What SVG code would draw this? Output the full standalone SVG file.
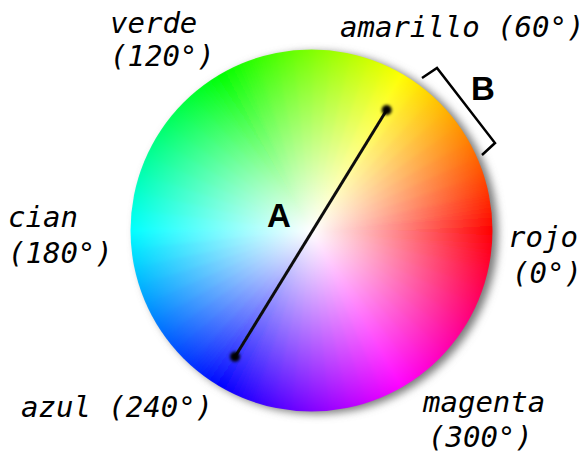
<svg xmlns="http://www.w3.org/2000/svg" width="588" height="454" viewBox="0 0 588 454">
<style>
.lbl{font-family:"DejaVu Sans Mono","Liberation Mono",monospace;font-style:italic;font-size:29px;fill:#000}
.big{font-family:"Liberation Sans",Arial,sans-serif;font-weight:bold;font-size:33px;fill:#000}
</style>
<defs>
<filter id="sh" x="-20%" y="-20%" width="140%" height="140%"><feGaussianBlur stdDeviation="4"/></filter>
<filter id="glow" x="-100%" y="-100%" width="300%" height="300%"><feGaussianBlur stdDeviation="1.6"/></filter>
<filter id="soft" x="-10%" y="-10%" width="120%" height="120%"><feGaussianBlur stdDeviation="0.5"/></filter>
<filter id="sm" x="-5%" y="-5%" width="110%" height="110%"><feGaussianBlur stdDeviation="1.5"/></filter>
<clipPath id="cc"><circle cx="311.5" cy="230.5" r="181"/></clipPath>
<radialGradient id="wh" cx="311.5" cy="230.5" r="181" gradientUnits="userSpaceOnUse">
<stop offset="0" stop-color="#fff" stop-opacity="1"/>
<stop offset="1" stop-color="#fff" stop-opacity="0"/>
</radialGradient>
<path id="wd" d="M311.5 230.5L494.2 241.1A183 183 0 0 0 494.2 219.9Z"/>
<linearGradient id="b" gradientUnits="userSpaceOnUse" x1="492.25" y1="239.97" x2="492.25" y2="221.03"/>
<linearGradient id="c0" href="#b"><stop stop-color="#ff0000"/><stop offset="1" stop-color="#ff1a00"/></linearGradient>
<linearGradient id="c1" href="#b"><stop stop-color="#ff1a00"/><stop offset="1" stop-color="#ff3300"/></linearGradient>
<linearGradient id="c2" href="#b"><stop stop-color="#ff3300"/><stop offset="1" stop-color="#ff4d00"/></linearGradient>
<linearGradient id="c3" href="#b"><stop stop-color="#ff4d00"/><stop offset="1" stop-color="#ff6600"/></linearGradient>
<linearGradient id="c4" href="#b"><stop stop-color="#ff6600"/><stop offset="1" stop-color="#ff8000"/></linearGradient>
<linearGradient id="c5" href="#b"><stop stop-color="#ff8000"/><stop offset="1" stop-color="#ff9900"/></linearGradient>
<linearGradient id="c6" href="#b"><stop stop-color="#ff9900"/><stop offset="1" stop-color="#ffb300"/></linearGradient>
<linearGradient id="c7" href="#b"><stop stop-color="#ffb300"/><stop offset="1" stop-color="#ffcc00"/></linearGradient>
<linearGradient id="c8" href="#b"><stop stop-color="#ffcc00"/><stop offset="1" stop-color="#ffe600"/></linearGradient>
<linearGradient id="c9" href="#b"><stop stop-color="#ffe600"/><stop offset="1" stop-color="#ffff00"/></linearGradient>
<linearGradient id="c10" href="#b"><stop stop-color="#ffff00"/><stop offset="1" stop-color="#e5ff00"/></linearGradient>
<linearGradient id="c11" href="#b"><stop stop-color="#e5ff00"/><stop offset="1" stop-color="#ccff00"/></linearGradient>
<linearGradient id="c12" href="#b"><stop stop-color="#ccff00"/><stop offset="1" stop-color="#b2ff00"/></linearGradient>
<linearGradient id="c13" href="#b"><stop stop-color="#b2ff00"/><stop offset="1" stop-color="#99ff00"/></linearGradient>
<linearGradient id="c14" href="#b"><stop stop-color="#99ff00"/><stop offset="1" stop-color="#7fff00"/></linearGradient>
<linearGradient id="c15" href="#b"><stop stop-color="#7fff00"/><stop offset="1" stop-color="#66ff00"/></linearGradient>
<linearGradient id="c16" href="#b"><stop stop-color="#66ff00"/><stop offset="1" stop-color="#4cff00"/></linearGradient>
<linearGradient id="c17" href="#b"><stop stop-color="#4cff00"/><stop offset="1" stop-color="#33ff00"/></linearGradient>
<linearGradient id="c18" href="#b"><stop stop-color="#33ff00"/><stop offset="1" stop-color="#19ff00"/></linearGradient>
<linearGradient id="c19" href="#b"><stop stop-color="#19ff00"/><stop offset="1" stop-color="#00ff00"/></linearGradient>
<linearGradient id="c20" href="#b"><stop stop-color="#00ff00"/><stop offset="1" stop-color="#00ff1a"/></linearGradient>
<linearGradient id="c21" href="#b"><stop stop-color="#00ff1a"/><stop offset="1" stop-color="#00ff33"/></linearGradient>
<linearGradient id="c22" href="#b"><stop stop-color="#00ff33"/><stop offset="1" stop-color="#00ff4d"/></linearGradient>
<linearGradient id="c23" href="#b"><stop stop-color="#00ff4d"/><stop offset="1" stop-color="#00ff66"/></linearGradient>
<linearGradient id="c24" href="#b"><stop stop-color="#00ff66"/><stop offset="1" stop-color="#00ff80"/></linearGradient>
<linearGradient id="c25" href="#b"><stop stop-color="#00ff80"/><stop offset="1" stop-color="#00ff99"/></linearGradient>
<linearGradient id="c26" href="#b"><stop stop-color="#00ff99"/><stop offset="1" stop-color="#00ffb3"/></linearGradient>
<linearGradient id="c27" href="#b"><stop stop-color="#00ffb3"/><stop offset="1" stop-color="#00ffcc"/></linearGradient>
<linearGradient id="c28" href="#b"><stop stop-color="#00ffcc"/><stop offset="1" stop-color="#00ffe6"/></linearGradient>
<linearGradient id="c29" href="#b"><stop stop-color="#00ffe6"/><stop offset="1" stop-color="#00ffff"/></linearGradient>
<linearGradient id="c30" href="#b"><stop stop-color="#00ffff"/><stop offset="1" stop-color="#00e5ff"/></linearGradient>
<linearGradient id="c31" href="#b"><stop stop-color="#00e5ff"/><stop offset="1" stop-color="#00ccff"/></linearGradient>
<linearGradient id="c32" href="#b"><stop stop-color="#00ccff"/><stop offset="1" stop-color="#00b2ff"/></linearGradient>
<linearGradient id="c33" href="#b"><stop stop-color="#00b2ff"/><stop offset="1" stop-color="#0099ff"/></linearGradient>
<linearGradient id="c34" href="#b"><stop stop-color="#0099ff"/><stop offset="1" stop-color="#007fff"/></linearGradient>
<linearGradient id="c35" href="#b"><stop stop-color="#007fff"/><stop offset="1" stop-color="#0066ff"/></linearGradient>
<linearGradient id="c36" href="#b"><stop stop-color="#0066ff"/><stop offset="1" stop-color="#004cff"/></linearGradient>
<linearGradient id="c37" href="#b"><stop stop-color="#004cff"/><stop offset="1" stop-color="#0033ff"/></linearGradient>
<linearGradient id="c38" href="#b"><stop stop-color="#0033ff"/><stop offset="1" stop-color="#0019ff"/></linearGradient>
<linearGradient id="c39" href="#b"><stop stop-color="#0019ff"/><stop offset="1" stop-color="#0000ff"/></linearGradient>
<linearGradient id="c40" href="#b"><stop stop-color="#0000ff"/><stop offset="1" stop-color="#1a00ff"/></linearGradient>
<linearGradient id="c41" href="#b"><stop stop-color="#1a00ff"/><stop offset="1" stop-color="#3300ff"/></linearGradient>
<linearGradient id="c42" href="#b"><stop stop-color="#3300ff"/><stop offset="1" stop-color="#4d00ff"/></linearGradient>
<linearGradient id="c43" href="#b"><stop stop-color="#4d00ff"/><stop offset="1" stop-color="#6600ff"/></linearGradient>
<linearGradient id="c44" href="#b"><stop stop-color="#6600ff"/><stop offset="1" stop-color="#8000ff"/></linearGradient>
<linearGradient id="c45" href="#b"><stop stop-color="#8000ff"/><stop offset="1" stop-color="#9900ff"/></linearGradient>
<linearGradient id="c46" href="#b"><stop stop-color="#9900ff"/><stop offset="1" stop-color="#b300ff"/></linearGradient>
<linearGradient id="c47" href="#b"><stop stop-color="#b300ff"/><stop offset="1" stop-color="#cc00ff"/></linearGradient>
<linearGradient id="c48" href="#b"><stop stop-color="#cc00ff"/><stop offset="1" stop-color="#e600ff"/></linearGradient>
<linearGradient id="c49" href="#b"><stop stop-color="#e600ff"/><stop offset="1" stop-color="#ff00ff"/></linearGradient>
<linearGradient id="c50" href="#b"><stop stop-color="#ff00ff"/><stop offset="1" stop-color="#ff00e5"/></linearGradient>
<linearGradient id="c51" href="#b"><stop stop-color="#ff00e5"/><stop offset="1" stop-color="#ff00cc"/></linearGradient>
<linearGradient id="c52" href="#b"><stop stop-color="#ff00cc"/><stop offset="1" stop-color="#ff00b2"/></linearGradient>
<linearGradient id="c53" href="#b"><stop stop-color="#ff00b2"/><stop offset="1" stop-color="#ff0099"/></linearGradient>
<linearGradient id="c54" href="#b"><stop stop-color="#ff0099"/><stop offset="1" stop-color="#ff007f"/></linearGradient>
<linearGradient id="c55" href="#b"><stop stop-color="#ff007f"/><stop offset="1" stop-color="#ff0066"/></linearGradient>
<linearGradient id="c56" href="#b"><stop stop-color="#ff0066"/><stop offset="1" stop-color="#ff004c"/></linearGradient>
<linearGradient id="c57" href="#b"><stop stop-color="#ff004c"/><stop offset="1" stop-color="#ff0033"/></linearGradient>
<linearGradient id="c58" href="#b"><stop stop-color="#ff0033"/><stop offset="1" stop-color="#ff0019"/></linearGradient>
<linearGradient id="c59" href="#b"><stop stop-color="#ff0019"/><stop offset="1" stop-color="#ff0000"/></linearGradient>
</defs>
<rect width="588" height="454" fill="#fff"/>
<g id="wheel">
<circle cx="317" cy="233" r="181" fill="#7a7a7a" filter="url(#sh)"/>
<g clip-path="url(#cc)">
<g filter="url(#sm)">
<use href="#wd" fill="url(#c0)" transform="rotate(-3 311.5 230.5)"/>
<use href="#wd" fill="url(#c1)" transform="rotate(-9 311.5 230.5)"/>
<use href="#wd" fill="url(#c2)" transform="rotate(-15 311.5 230.5)"/>
<use href="#wd" fill="url(#c3)" transform="rotate(-21 311.5 230.5)"/>
<use href="#wd" fill="url(#c4)" transform="rotate(-27 311.5 230.5)"/>
<use href="#wd" fill="url(#c5)" transform="rotate(-33 311.5 230.5)"/>
<use href="#wd" fill="url(#c6)" transform="rotate(-39 311.5 230.5)"/>
<use href="#wd" fill="url(#c7)" transform="rotate(-45 311.5 230.5)"/>
<use href="#wd" fill="url(#c8)" transform="rotate(-51 311.5 230.5)"/>
<use href="#wd" fill="url(#c9)" transform="rotate(-57 311.5 230.5)"/>
<use href="#wd" fill="url(#c10)" transform="rotate(-63 311.5 230.5)"/>
<use href="#wd" fill="url(#c11)" transform="rotate(-69 311.5 230.5)"/>
<use href="#wd" fill="url(#c12)" transform="rotate(-75 311.5 230.5)"/>
<use href="#wd" fill="url(#c13)" transform="rotate(-81 311.5 230.5)"/>
<use href="#wd" fill="url(#c14)" transform="rotate(-87 311.5 230.5)"/>
<use href="#wd" fill="url(#c15)" transform="rotate(-93 311.5 230.5)"/>
<use href="#wd" fill="url(#c16)" transform="rotate(-99 311.5 230.5)"/>
<use href="#wd" fill="url(#c17)" transform="rotate(-105 311.5 230.5)"/>
<use href="#wd" fill="url(#c18)" transform="rotate(-111 311.5 230.5)"/>
<use href="#wd" fill="url(#c19)" transform="rotate(-117 311.5 230.5)"/>
<use href="#wd" fill="url(#c20)" transform="rotate(-123 311.5 230.5)"/>
<use href="#wd" fill="url(#c21)" transform="rotate(-129 311.5 230.5)"/>
<use href="#wd" fill="url(#c22)" transform="rotate(-135 311.5 230.5)"/>
<use href="#wd" fill="url(#c23)" transform="rotate(-141 311.5 230.5)"/>
<use href="#wd" fill="url(#c24)" transform="rotate(-147 311.5 230.5)"/>
<use href="#wd" fill="url(#c25)" transform="rotate(-153 311.5 230.5)"/>
<use href="#wd" fill="url(#c26)" transform="rotate(-159 311.5 230.5)"/>
<use href="#wd" fill="url(#c27)" transform="rotate(-165 311.5 230.5)"/>
<use href="#wd" fill="url(#c28)" transform="rotate(-171 311.5 230.5)"/>
<use href="#wd" fill="url(#c29)" transform="rotate(-177 311.5 230.5)"/>
<use href="#wd" fill="url(#c30)" transform="rotate(-183 311.5 230.5)"/>
<use href="#wd" fill="url(#c31)" transform="rotate(-189 311.5 230.5)"/>
<use href="#wd" fill="url(#c32)" transform="rotate(-195 311.5 230.5)"/>
<use href="#wd" fill="url(#c33)" transform="rotate(-201 311.5 230.5)"/>
<use href="#wd" fill="url(#c34)" transform="rotate(-207 311.5 230.5)"/>
<use href="#wd" fill="url(#c35)" transform="rotate(-213 311.5 230.5)"/>
<use href="#wd" fill="url(#c36)" transform="rotate(-219 311.5 230.5)"/>
<use href="#wd" fill="url(#c37)" transform="rotate(-225 311.5 230.5)"/>
<use href="#wd" fill="url(#c38)" transform="rotate(-231 311.5 230.5)"/>
<use href="#wd" fill="url(#c39)" transform="rotate(-237 311.5 230.5)"/>
<use href="#wd" fill="url(#c40)" transform="rotate(-243 311.5 230.5)"/>
<use href="#wd" fill="url(#c41)" transform="rotate(-249 311.5 230.5)"/>
<use href="#wd" fill="url(#c42)" transform="rotate(-255 311.5 230.5)"/>
<use href="#wd" fill="url(#c43)" transform="rotate(-261 311.5 230.5)"/>
<use href="#wd" fill="url(#c44)" transform="rotate(-267 311.5 230.5)"/>
<use href="#wd" fill="url(#c45)" transform="rotate(-273 311.5 230.5)"/>
<use href="#wd" fill="url(#c46)" transform="rotate(-279 311.5 230.5)"/>
<use href="#wd" fill="url(#c47)" transform="rotate(-285 311.5 230.5)"/>
<use href="#wd" fill="url(#c48)" transform="rotate(-291 311.5 230.5)"/>
<use href="#wd" fill="url(#c49)" transform="rotate(-297 311.5 230.5)"/>
<use href="#wd" fill="url(#c50)" transform="rotate(-303 311.5 230.5)"/>
<use href="#wd" fill="url(#c51)" transform="rotate(-309 311.5 230.5)"/>
<use href="#wd" fill="url(#c52)" transform="rotate(-315 311.5 230.5)"/>
<use href="#wd" fill="url(#c53)" transform="rotate(-321 311.5 230.5)"/>
<use href="#wd" fill="url(#c54)" transform="rotate(-327 311.5 230.5)"/>
<use href="#wd" fill="url(#c55)" transform="rotate(-333 311.5 230.5)"/>
<use href="#wd" fill="url(#c56)" transform="rotate(-339 311.5 230.5)"/>
<use href="#wd" fill="url(#c57)" transform="rotate(-345 311.5 230.5)"/>
<use href="#wd" fill="url(#c58)" transform="rotate(-351 311.5 230.5)"/>
<use href="#wd" fill="url(#c59)" transform="rotate(-357 311.5 230.5)"/>
</g>
</g>
<circle cx="311.5" cy="230.5" r="181.5" fill="url(#wh)"/>
</g>
<g id="connectors">
<line x1="386.7" y1="110" x2="235" y2="356.7" stroke="#111" stroke-width="3" filter="url(#soft)"/>
<path d="M422 78L437 68L495 143L482 155" fill="none" stroke="#000" stroke-width="2.5" filter="url(#soft)"/>
</g>
<g id="dots">
<circle cx="386.7" cy="110" r="5" fill="#000" filter="url(#glow)"/>
<circle cx="235" cy="356.7" r="5" fill="#000" filter="url(#glow)"/>
</g>
<g id="labels">
<text class="big" x="279" y="227" text-anchor="middle">A</text>
<text class="big" x="471" y="100">B</text>
<text class="lbl" x="110" y="33">verde</text>
<text class="lbl" x="110" y="66">(120°)</text>
<text class="lbl" x="340" y="37">amarillo (60°)</text>
<text class="lbl" x="8" y="227">cian</text>
<text class="lbl" x="8" y="263">(180°)</text>
<text class="lbl" x="508" y="247">rojo</text>
<text class="lbl" x="512" y="283">(0°)</text>
<text class="lbl" x="21" y="417">azul (240°)</text>
<text class="lbl" x="423" y="412">magenta</text>
<text class="lbl" x="428" y="447">(300°)</text>
</g>
</svg>
